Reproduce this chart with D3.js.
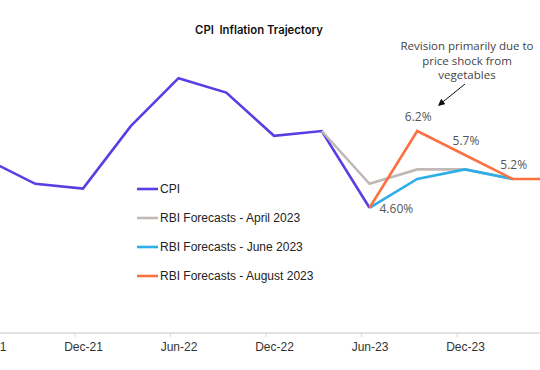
<!DOCTYPE html>
<html>
<head>
<meta charset="utf-8">
<script src="https://cdn.jsdelivr.net/npm/d3@7"></script>
<style>
  body { margin: 0; background: #fff; }
  svg { display: block; }
  .axis-label { font-family: "Liberation Sans", Arial, sans-serif; font-size: 12px; fill: #333; }
  .legend-label { font-family: "Liberation Sans", Arial, sans-serif; font-size: 12px; fill: #222; }
  .note { font-family: "Open Sans", sans-serif; font-size: 11.5px; fill: #444; }
  .data-label { font-family: "Open Sans", sans-serif; font-size: 12px; fill: #555; }
</style>
</head>
<body>
<div id="chart"></div>
<script>
const width = 540;
const height = 370;

// quarterly points, named by the last month of each quarter
const cpiMonths = ['Jun-21', 'Sep-21', 'Dec-21', 'Mar-22', 'Jun-22', 'Sep-22', 'Dec-22', 'Mar-23', 'Jun-23'];
const cpiValues = [5.6, 5.1, 5.0, 6.3, 7.3, 7.0, 6.1, 6.2, 4.6];

const aprilMonths = ['Mar-23', 'Jun-23', 'Sep-23', 'Dec-23', 'Mar-24'];
const aprilValues = [6.2, 5.1, 5.4, 5.4, 5.2];

const juneMonths = ['Jun-23', 'Sep-23', 'Dec-23', 'Mar-24'];
const juneValues = [4.6, 5.2, 5.4, 5.2];

const augustMonths = ['Jun-23', 'Sep-23', 'Dec-23', 'Mar-24', 'Jun-24'];
const augustValues = [4.6, 6.2, 5.7, 5.2, 5.2];

const tickLabels = ['Jun-21', 'Dec-21', 'Jun-22', 'Dec-22', 'Jun-23', 'Dec-23'];

const seriesNames = ['CPI', 'RBI Forecasts - April 2023', 'RBI Forecasts - June 2023', 'RBI Forecasts - August 2023'];
const seriesColors = ['#5b3de3', '#c1b9b6', '#2eaee6', '#fb7142'];

const pointLabels = [
    {month: 'Sep-23', value: 6.2, text: '6.2%'},
    {month: 'Dec-23', value: 5.7, text: '5.7%'},
    {month: 'Mar-24', value: 5.2, text: '5.2%'},
    {month: 'Jun-23', value: 4.6, text: '4.60%'}
];

const monthNames = ['Jan', 'Feb', 'Mar', 'Apr', 'May', 'Jun', 'Jul', 'Aug', 'Sep', 'Oct', 'Nov', 'Dec'];

// months counted from Jan-21
function monthIndex(label) {
    let parts = label.split('-');
    return (+parts[1] - 21) * 12 + monthNames.indexOf(parts[0]);
}

const x = d3.scaleLinear().domain([monthIndex('Dec-21'), monthIndex('Dec-23')]).range([83, 465]);
const y = d3.scaleLinear().domain([5.2, 6.2]).range([179, 131]);

const svg = d3.select('#chart').append('svg')
    .attr('width', width)
    .attr('height', height);

// title
svg.append('text')
    .attr('x', 259)
    .attr('y', 34)
    .attr('text-anchor', 'middle')
    .style('font-family', 'Inter, sans-serif')
    .style('font-weight', 600)
    .style('font-size', '11.3px')
    .style('fill', '#111')
    .style('white-space', 'pre')
    .text('CPI  Inflation Trajectory');

// x axis
const axisY = 333;
svg.append('line')
    .attr('x1', 0).attr('x2', width)
    .attr('y1', axisY).attr('y2', axisY)
    .attr('stroke', '#d9d9d9')
    .attr('stroke-width', 1.5);

let axis = d3.axisBottom(x)
    .tickValues(tickLabels.map(monthIndex))
    .tickSize(0)
    .tickPadding(9)
    .tickFormat((d, i) => tickLabels[i]);

let axisG = svg.append('g')
    .attr('transform', 'translate(0,' + axisY + ')')
    .call(axis);
axisG.select('.domain').remove();
axisG.selectAll('text').attr('class', 'axis-label').attr('font-family', null).attr('font-size', null).attr('fill', null);

// tick marks sit between categories, half a month left of the label
svg.selectAll('.tick-mark')
    .data(tickLabels.map(monthIndex))
    .enter().append('line')
    .attr('class', 'tick-mark')
    .attr('x1', d => x(d - 0.5)).attr('x2', d => x(d - 0.5))
    .attr('y1', axisY).attr('y2', axisY + 4)
    .attr('stroke', '#d9d9d9')
    .attr('stroke-width', 1);

// lines
const line = d3.line()
    .x(d => x(monthIndex(d.month)))
    .y(d => y(d.value));

const allSeries = [
    cpiMonths.map((m, i) => ({month: m, value: cpiValues[i]})),
    aprilMonths.map((m, i) => ({month: m, value: aprilValues[i]})),
    juneMonths.map((m, i) => ({month: m, value: juneValues[i]})),
    augustMonths.map((m, i) => ({month: m, value: augustValues[i]}))
];

svg.selectAll('.series')
    .data(allSeries)
    .enter().append('path')
    .attr('class', 'series')
    .attr('d', line)
    .attr('fill', 'none')
    .attr('stroke', (d, i) => seriesColors[i])
    .attr('stroke-width', 2.6)
    .attr('stroke-linejoin', 'miter');

// data labels
svg.selectAll('.data-label')
    .data(pointLabels)
    .enter().append('text')
    .attr('class', 'data-label')
    .attr('x', d => d.month === 'Jun-23' ? x(monthIndex(d.month)) + 10 : x(monthIndex(d.month)) + 1)
    .attr('y', d => d.month === 'Jun-23' ? y(d.value) + 5 : y(d.value) - 10)
    .attr('text-anchor', d => d.month === 'Jun-23' ? 'start' : 'middle')
    .text(d => d.text);

// legend
let legend = svg.selectAll('.legend')
    .data(seriesNames)
    .enter().append('g')
    .attr('class', 'legend')
    .attr('transform', (d, i) => 'translate(137,' + (189 + i * 29) + ')');

legend.append('line')
    .attr('x1', 0).attr('x2', 21)
    .attr('stroke', (d, i) => seriesColors[i])
    .attr('stroke-width', 2.6);

legend.append('text')
    .attr('class', 'legend-label')
    .attr('x', 23)
    .attr('dy', '.35em')
    .text(d => d);

// annotation
const noteLines = ['Revision primarily due to', 'price shock from', 'vegetables'];
svg.selectAll('.note')
    .data(noteLines)
    .enter().append('text')
    .attr('class', 'note')
    .attr('x', 467)
    .attr('y', (d, i) => 50 + i * 14.5)
    .attr('text-anchor', 'middle')
    .text(d => d);

svg.append('defs').append('marker')
    .attr('id', 'arrow')
    .attr('viewBox', '0 0 10 10')
    .attr('refX', 8).attr('refY', 5)
    .attr('markerWidth', 7).attr('markerHeight', 7)
    .attr('orient', 'auto')
    .append('path')
    .attr('d', 'M0,0 L10,5 L0,10 z')
    .attr('fill', '#111');

svg.append('line')
    .attr('x1', 465).attr('y1', 84)
    .attr('x2', 439).attr('y2', 105)
    .attr('stroke', '#111')
    .attr('stroke-width', 1)
    .attr('marker-end', 'url(#arrow)');
</script>
</body>
</html>
